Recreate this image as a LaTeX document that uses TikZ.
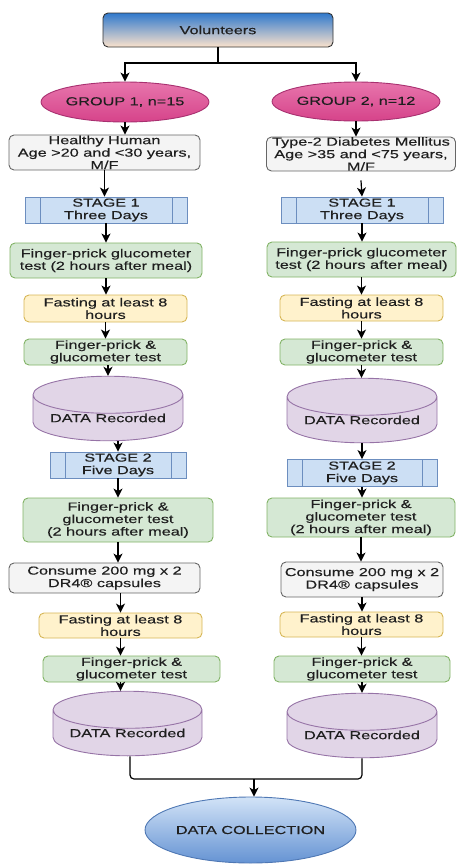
\documentclass[tikz,border=0pt]{standalone}
\usepackage{fontspec}
\setmainfont{Liberation Sans}[FakeStretch=1.4, FakeBold=0.3]
\usetikzlibrary{arrows.meta,shapes.geometric}
\definecolor{greenfill}{HTML}{D5E8D4}
\definecolor{greenline}{HTML}{82B366}
\definecolor{yellowfill}{HTML}{FFF2CC}
\definecolor{yellowline}{HTML}{D6B656}
\definecolor{stagefill}{HTML}{CCDFF4}
\definecolor{stageline}{HTML}{6C8EBF}
\definecolor{purplefill}{HTML}{E1D5E7}
\definecolor{purpleline}{HTML}{9673A6}
\definecolor{greyfill}{HTML}{F4F4F4}
\definecolor{greyline}{HTML}{666666}
\definecolor{pinktop}{HTML}{E775AC}
\definecolor{pinkbot}{HTML}{D6438A}
\definecolor{pinkline}{HTML}{A83070}
\definecolor{voltop}{HTML}{3079CC}
\definecolor{volbot}{HTML}{FBE2CC}
\definecolor{colltop}{HTML}{D2E3F7}
\definecolor{collbot}{HTML}{6593D3}
\definecolor{collline}{HTML}{4F78B4}
\tikzstyle{base}=[inner sep=0pt, align=center, line width=0.9pt,
    font=\fontsize{11.6}{12.5}\selectfont, text=black!88]
\tikzstyle{box}=[base, rectangle, rounded corners=5pt]
\tikzstyle{greenbox}=[box, draw=greenline, fill=greenfill]
\tikzstyle{yellowbox}=[box, draw=yellowline, fill=yellowfill]
\tikzstyle{greybox}=[box, draw=greyline, fill=greyfill]
\tikzstyle{topbox}=[box, draw=black!80, top color=voltop, bottom color=volbot]
\tikzstyle{groupell}=[base, ellipse, draw=pinkline, top color=pinktop, bottom color=pinkbot]
\tikzstyle{collell}=[base, ellipse, draw=collline, top color=colltop, bottom color=collbot]
\tikzstyle{datadb}=[base, cylinder, shape border rotate=90, aspect=0.32,
    draw=purpleline, fill=purplefill]
\tikzstyle{stagebox}=[base, rectangle, draw=stageline, fill=stagefill,
    path picture={
      \draw[stageline, line width=0.9pt]
        ([xshift=15pt]path picture bounding box.north west) -- ([xshift=15pt]path picture bounding box.south west)
        ([xshift=-15pt]path picture bounding box.north east) -- ([xshift=-15pt]path picture bounding box.south east);
    }]
\tikzstyle{arr}=[draw, line width=1.2pt, -{Stealth[length=9pt, width=9pt, inset=2.5pt]}]
\tikzstyle{line}=[draw, line width=1.2pt]
\tikzset{wh/.style 2 args={minimum width=#1, minimum height=#2}}
\newcommand{\flow}[2]{\draw[arr] (#1.south) -- (#1.south |- #2.north);}
\newcommand{\flowto}[2]{\draw[arr] (#2.north |- #1.south) -- (#2.north);}

\begin{document}
\begin{tikzpicture}[x=1pt, y=-1pt]
\useasboundingbox (0,0) rectangle (456,865);
% top
\node[topbox, wh={230}{34}] (vol) at (218,30) {Volunteers};
\node[groupell, wh={161}{40}] (g1) at (125,102) {GROUP 1, n=15};
\node[groupell, wh={165}{39}] (g2) at (356,101.5) {GROUP 2, n=12};
% left column
\node[greybox, wh={191}{35}] (hh) at (104.5,152.5) {Healthy Human\\Age >20 and <30 years,\\M/F};
\node[stagebox, wh={162}{26}] (s1a) at (106,210) {STAGE 1\\Three Days};
\node[greenbox, wh={192}{35}] (fpa) at (106,260.5) {Finger-prick glucometer\\test (2 hours after meal)};
\node[yellowbox, wh={163}{27}] (fasta) at (105.5,308.5) {Fasting at least 8\\hours};
\node[greenbox, wh={163}{26}] (fpga) at (105.5,352) {Finger-prick \&\\glucometer test};
\node[datadb, wh={150}{41}] (dra) at (108,418) {DATA Recorded};
\node[stagebox, wh={136}{26}] (s2a) at (118,465) {STAGE 2\\Five Days};
\node[greenbox, wh={190}{44}] (fp3a) at (118,520) {Finger-prick \&\\glucometer test\\(2 hours after meal)};
\node[greybox, wh={191}{30}] (cona) at (104.5,578) {Consume 200 mg x 2\\DR4® capsules};
\node[yellowbox, wh={163}{25}] (fast2a) at (120.5,625.5) {Fasting at least 8\\hours};
\node[greenbox, wh={177}{26}] (fpg2a) at (131.5,669) {Finger-prick \&\\glucometer test};
\node[datadb, wh={149}{41}] (dr2a) at (127.5,733) {DATA Recorded};
% right column
\node[greybox, wh={189}{34}] (t2) at (361,154) {Type-2 Diabetes Mellitus\\Age >35 and <75 years,\\M/F};
\node[stagebox, wh={162}{26}] (s1b) at (362,210) {STAGE 1\\Three Days};
\node[greenbox, wh={189}{35}] (fpb) at (361.5,259.5) {Finger-prick glucometer\\test (2 hours after meal)};
\node[yellowbox, wh={163}{26}] (fastb) at (361.5,308) {Fasting at least 8\\hours};
\node[greenbox, wh={163}{26}] (fpgb) at (361.5,352) {Finger-prick \&\\glucometer test};
\node[datadb, wh={150}{44}] (drb) at (362,420) {DATA Recorded};
\node[stagebox, wh={150}{27}] (s2b) at (362,473) {STAGE 2\\Five Days};
\node[greenbox, wh={188}{39}] (fp3b) at (361,517.5) {Finger-prick \&\\glucometer test\\(2 hours after meal)};
\node[greybox, wh={162}{35}] (conb) at (362,579.5) {Consume 200 mg x 2\\DR4® capsules};
\node[yellowbox, wh={163}{25}] (fast2b) at (361.5,624.5) {Fasting at least 8\\hours};
\node[greenbox, wh={176}{26}] (fpg2b) at (362,669) {Finger-prick \&\\glucometer test};
\node[datadb, wh={150}{42}] (dr2b) at (362,735) {DATA Recorded};
% bottom
\node[collell, wh={185}{66}] (coll) at (250.5,830) {DATA COLLECTION};

\coordinate (split) at (218,63);
\coordinate (merge) at (254,779);
\draw[line] (vol.south) -- (split);
\draw[arr] (split) -| (g1.north);
\draw[arr] (split) -| (g2.north);

\flow{g1}{hh}
\flow{hh}{s1a}
\flow{s1a}{fpa}
\flow{fpa}{fasta}
\flow{fasta}{fpga}
\flowto{fpga}{dra}
\flowto{dra}{s2a}
\flow{s2a}{fp3a}
\flow{fp3a}{cona}
\flowto{cona}{fast2a}
\flow{fast2a}{fpg2a}
\draw[arr] (fpg2a.south -| fast2a) -- (dr2a.north -| fast2a);

\flow{g2}{t2}
\draw[arr] ([yshift=-9pt]t2.south) -- (s1b.north);
\flow{s1b}{fpb}
\flow{fpb}{fastb}
\flow{fastb}{fpgb}
\flow{fpgb}{drb}
\flow{drb}{s2b}
\flow{s2b}{fp3b}
\flow{fp3b}{conb}
\flow{conb}{fast2b}
\flow{fast2b}{fpg2b}
\flow{fpg2b}{dr2b}

\draw[line, rounded corners=4pt] ([xshift=2.5pt]dr2a.south) |- (merge) -| (dr2b.south);
\draw[arr] (merge) -- (merge |- coll.north);
\end{tikzpicture}
\end{document}
